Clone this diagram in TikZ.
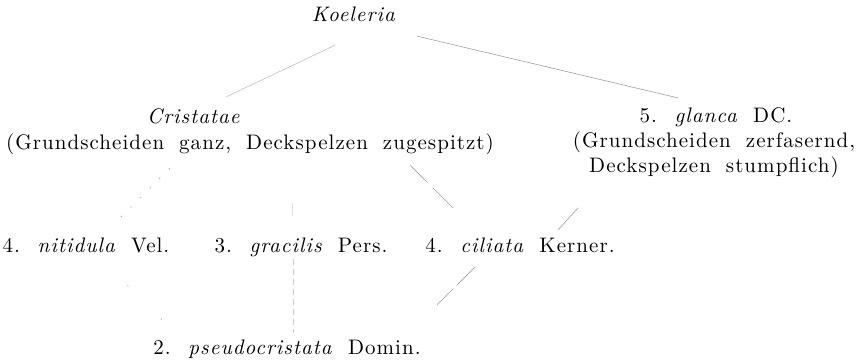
\documentclass[tikz,border=0pt]{standalone}
\usepackage{fontspec}
\usetikzlibrary{positioning,calc}

% spaced print face of the key
\newfontfamily\keyface{lmroman10-regular.otf}[ItalicFont=lmroman10-italic.otf, LetterSpace=5]
\newcommand{\keyfont}{\keyface\fontsize{21}{25}\selectfont\spaceskip=15pt plus 2pt}

\begin{document}
\begin{tikzpicture}[x=1pt,y=-1pt,
  taxon/.style={inner sep=0pt, text height=14pt, text depth=4pt, font=\keyfont},
  link/.style={draw=gray!75, line width=0.6pt},
  dotlink/.style={link, dash pattern=on 1.5pt off 12pt},
  dashlink/.style={link, dash pattern=on 26pt off 5pt}]

\useasboundingbox (0,0) rectangle (865,363);

% genus and the two groups
\node[taxon] (koel) at (354,17) {\textit{Koeleria}};
\node[taxon] (crist) at (194,119) {\textit{Cristatae}};
\node[taxon] (cristd) at (250,145) {(Grundscheiden ganz, Deckspelzen zugespitzt)};
\node[taxon] (glanca) at (716,118) {5. \textit{glanca} DC.};
\node[inner sep=0pt, font=\keyfont, align=center] (glancad) at (714,155)
  {(Grundscheiden zerfasernd,\\ Deckspelzen stumpflich)};

% species row
\foreach \name/\x/\txt in {nit/86/{4. \textit{nitidula} Vel.},
                           grac/301/{3. \textit{gracilis} Pers.},
                           cil/520/{4. \textit{ciliata} Kerner.}} {
  \node[taxon] (\name) at (\x,248) {\txt};
}
\node[taxon] (pseudo) at (287,350) {2. \textit{pseudocristata} Domin.};

% upper branches
\draw[link, draw=gray!50, shorten <=44pt, shorten >=30pt]
  ([xshift=21pt]koel.south) -- ([xshift=5pt]crist.north);
\draw[link, shorten <=43pt, shorten >=47pt]
  ([xshift=21pt]koel.south) -- ([xshift=8pt]glanca.north);

% from the groups to the species
\draw[dotlink, shorten <=20pt, shorten >=20pt]
  ([xshift=-66pt]cristd.south) -- ([xshift=13pt]nit.north);
\draw[link, draw=gray!25, shorten <=49pt, shorten >=24pt]
  ([xshift=42pt]cristd.south) -- ([xshift=-9pt]grac.north);
\draw[link, dash pattern=on 24pt off 8pt on 40pt, shorten <=16pt, shorten >=44pt]
  ([xshift=149pt]cristd.south) -- ([xshift=-36pt]cil.north);
\draw[link, shorten <=40pt, shorten >=12pt]
  ([xshift=-109pt]glancad.south) -- ([xshift=30pt]cil.north);

% hybrid at the bottom
\draw[link, dash pattern=on 1.5pt off 46pt, shorten <=40pt, shorten >=30pt]
  ([xshift=13pt]nit.south) -- ([xshift=-104pt]pseudo.north);
\draw[link, draw=gray!40, dash pattern=on 6pt off 4pt, shorten <=2pt, shorten >=8pt]
  ([xshift=-8pt]grac.south) -- ([xshift=6pt]pseudo.north);
\draw[dashlink, shorten <=14pt, shorten >=51pt]
  ([xshift=-35pt]cil.south) -- ([xshift=114pt]pseudo.north);
\end{tikzpicture}
\end{document}
